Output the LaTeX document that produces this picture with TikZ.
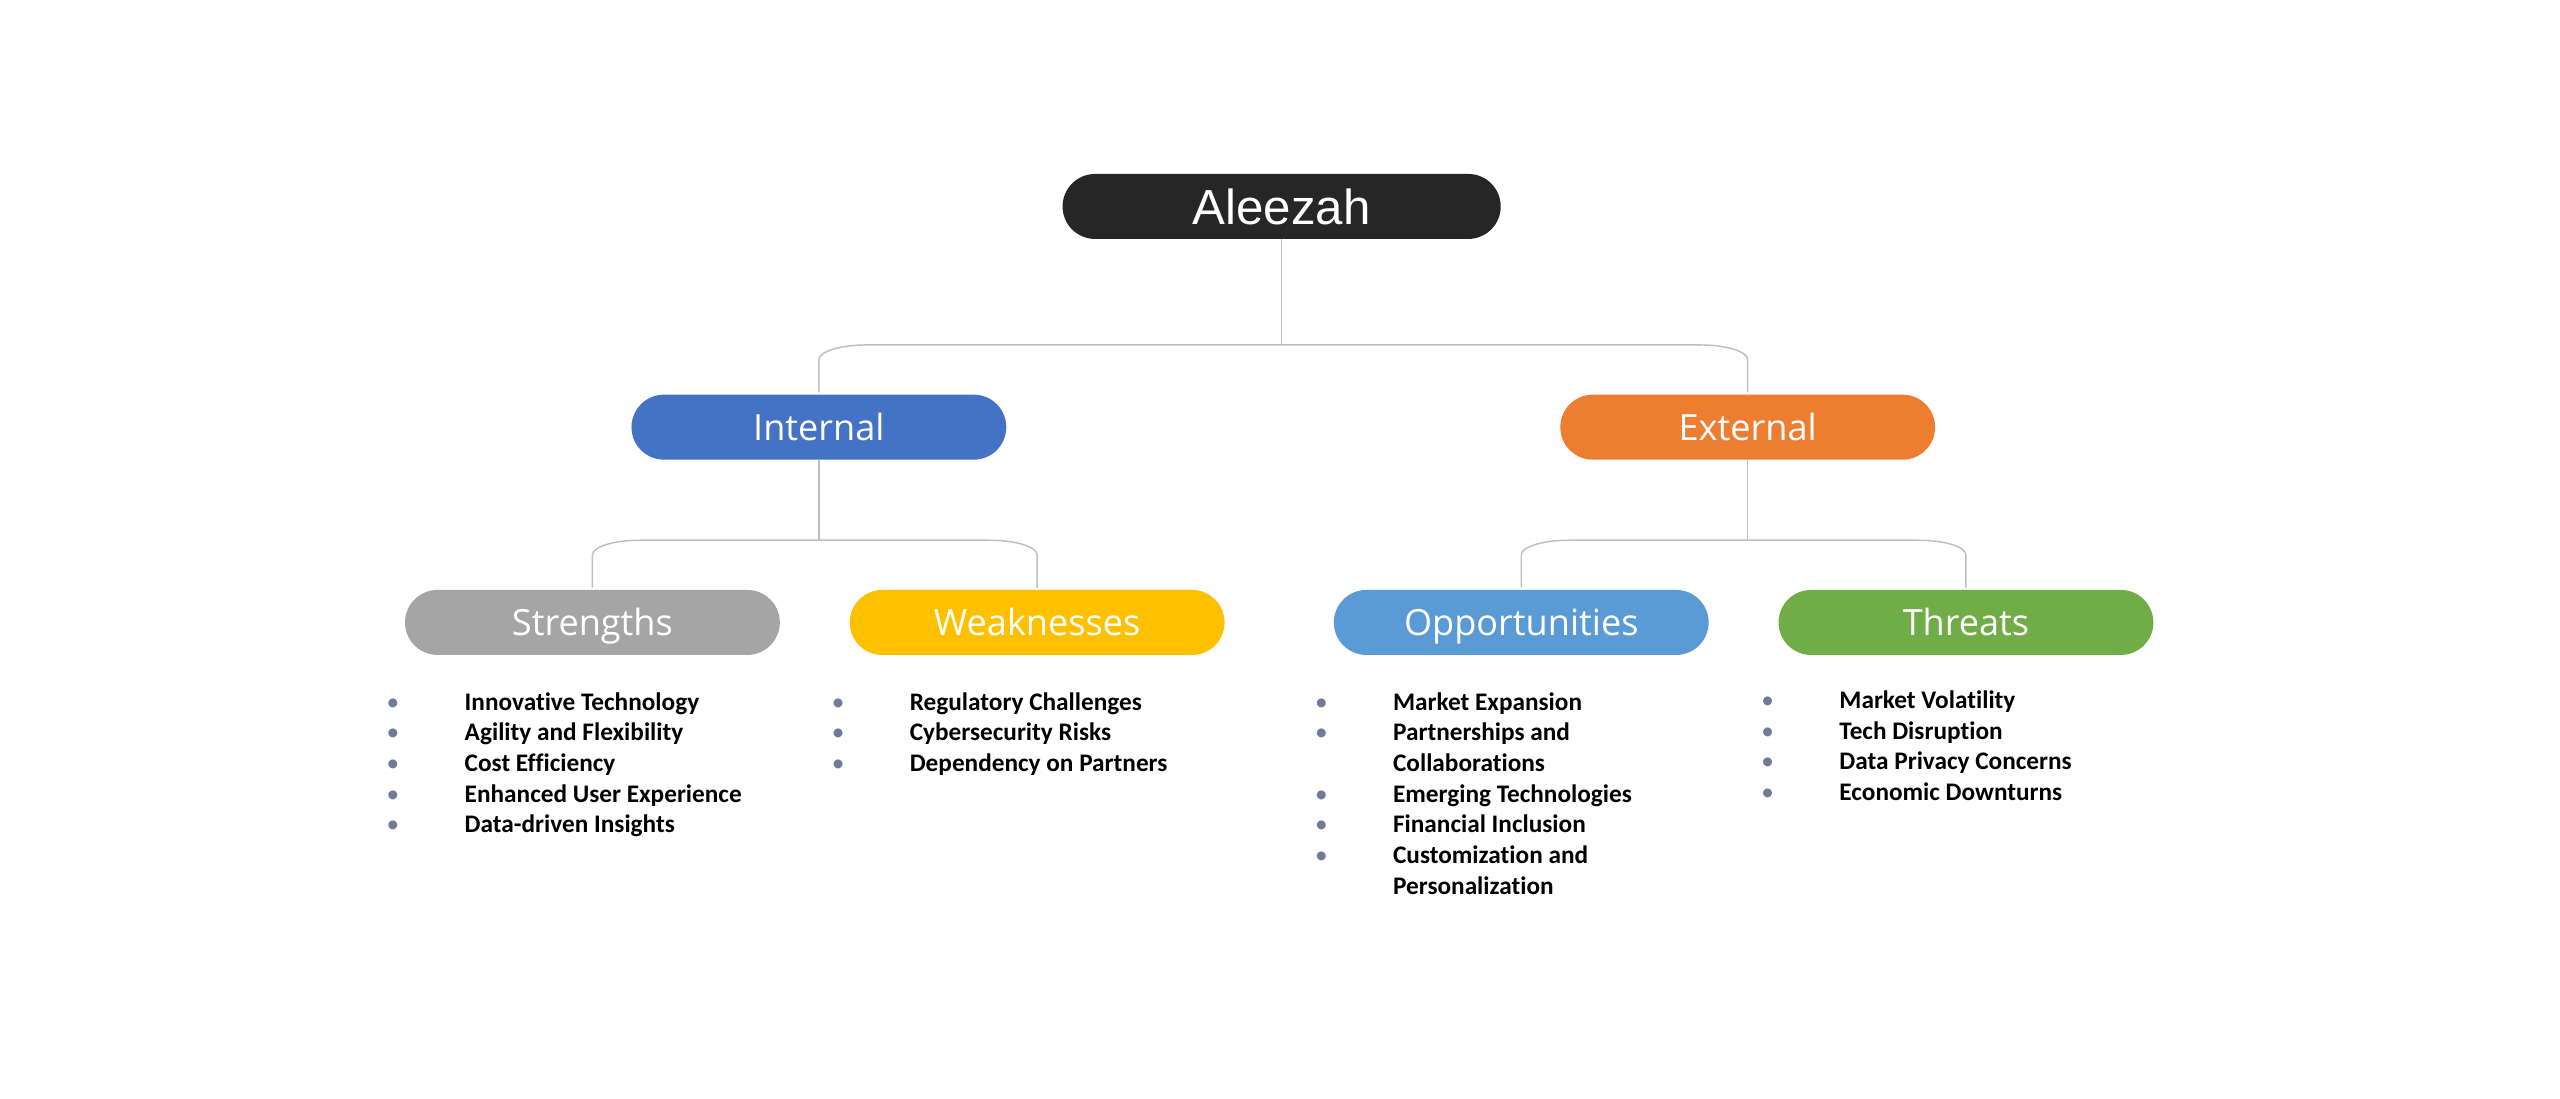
\documentclass[tikz,border=0pt]{standalone}
\usepackage{fontspec}
\usepackage{array}
\newfontfamily\bodyfont{Carlito}[Ligatures=NoCommon]
\newfontfamily\hdrfont{Open Sans}
\newfontfamily\titlefont{Liberation Sans}
\usetikzlibrary{calc}
\definecolor{cTop}{HTML}{262626}
\definecolor{cInt}{HTML}{4472C4}
\definecolor{cExt}{HTML}{ED7D31}
\definecolor{cStr}{HTML}{A5A5A5}
\definecolor{cWea}{HTML}{FFC000}
\definecolor{cOpp}{HTML}{5B9BD5}
\definecolor{cThr}{HTML}{70AD47}
\definecolor{cLine}{HTML}{BFBFBF}
\definecolor{cBul}{RGB}{112,124,150}
\newcommand{\bul}{\makebox[0pt][c]{\mdseries\textcolor{cBul}{•}}}
\tikzset{
  pill/.style={rounded corners=19.8pt, minimum width=228.4pt, minimum height=39.6pt,
    inner sep=0pt, text=white, text height=15.7pt, text depth=0pt,
    font=\hdrfont\fontsize{22}{26}\selectfont},
  titlebox/.style={rounded corners=19.8pt, minimum width=267pt, minimum height=39.6pt,
    inner sep=0pt, fill=cTop, text=white, text height=21.5pt, text depth=0pt,
    font=\titlefont\fontsize{30}{34}\selectfont},
  conn/.style={draw=cLine, line width=0.9pt},
  blist/.style={inner sep=0pt, anchor=base west, text=black,
    font=\bodyfont\bfseries\fontsize{15.4}{18.7}\selectfont}
}
\begin{document}
\begin{tikzpicture}[x=1pt,y=1pt]
\useasboundingbox[fill=white] (0,0) rectangle (1560,-669.1);

\node[titlebox] (top) at (781,-125.8) {Aleezah};
\node[pill, fill=cInt] (int) at (499,-260.3) {Internal};
\node[pill, fill=cExt] (ext) at (1065,-260.3) {External};
\node[pill, fill=cStr] (str) at (361,-379.3) {Strengths};
\node[pill, fill=cWea] (wea) at (632,-379.3) {Weaknesses};
\node[pill, fill=cOpp] (opp) at (927,-379.3) {Opportunities};
\node[pill, fill=cThr] (thr) at (1198,-379.3) {Threats};

% connectors
\draw[conn] (top.south) -- (top.south |- 0,-210.2);
\draw[conn] let \p1=(int.north), \p2=(ext.north) in
  (\x1,\y1+1.2pt) -- (\x1,-219.2pt) .. controls (\x1,-214.2pt) and (\x1+13pt,-210.2pt) .. (\x1+29pt,-210.2pt)
  -- (\x2-29pt,-210.2pt) .. controls (\x2-13pt,-210.2pt) and (\x2,-214.2pt) .. (\x2,-219.2pt) -- (\x2,\y2+1.2pt);
\draw[conn] (int.south) -- (int.south |- 0,-329.2);
\draw[conn] let \p1=(str.north), \p2=(wea.north) in
  (\x1,\y1+1.2pt) -- (\x1,-338.2pt) .. controls (\x1,-333.2pt) and (\x1+13pt,-329.2pt) .. (\x1+29pt,-329.2pt)
  -- (\x2-29pt,-329.2pt) .. controls (\x2-13pt,-329.2pt) and (\x2,-333.2pt) .. (\x2,-338.2pt) -- (\x2,\y2+1.2pt);
\draw[conn] (ext.south) -- (ext.south |- 0,-329.2);
\draw[conn] let \p1=(opp.north), \p2=(thr.north) in
  (\x1,\y1+1.2pt) -- (\x1,-338.2pt) .. controls (\x1,-333.2pt) and (\x1+13pt,-329.2pt) .. (\x1+29pt,-329.2pt)
  -- (\x2-29pt,-329.2pt) .. controls (\x2-13pt,-329.2pt) and (\x2,-333.2pt) .. (\x2,-338.2pt) -- (\x2,\y2+1.2pt);

% lists
\node[blist] (strl) at (239.3,-432.7) {\begin{tabular}[t]{@{}p{43.7pt}@{}l@{}}
\bul & Innovative Technology\\
\bul & Agility and Flexibility\\
\bul & Cost Efficiency\\
\bul & Enhanced User Experience\\
\bul & Data-driven Insights
\end{tabular}};
\node[blist] (weal) at (510.5,-432.7) {\begin{tabular}[t]{@{}p{43.7pt}@{}l@{}}
\bul & Regulatory Challenges\\
\bul & Cybersecurity Risks\\
\bul & Dependency on Partners
\end{tabular}};
\node[blist] (oppl) at (805,-432.7) {\begin{tabular}[t]{@{}p{43.7pt}@{}l@{}}
\bul & Market Expansion\\
\bul & Partnerships and\\
 & Collaborations\\
\bul & Emerging Technologies\\
\bul & Financial Inclusion\\
\bul & Customization and\\
 & Personalization
\end{tabular}};
\node[blist] (thrl) at (1077,-431.7) {\begin{tabular}[t]{@{}p{43.7pt}@{}l@{}}
\bul & Market Volatility\\
\bul & Tech Disruption\\
\bul & Data Privacy Concerns\\
\bul & Economic Downturns
\end{tabular}};
\end{tikzpicture}
\end{document}
